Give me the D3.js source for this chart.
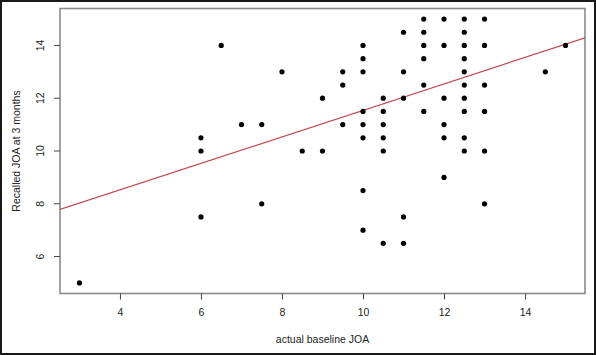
<!DOCTYPE html>
<html>
<head>
<meta charset="utf-8">
<script src="https://cdn.jsdelivr.net/npm/d3@7"></script>
<style>
html,body{margin:0;padding:0;background:#fff;}
svg{display:block;}
text{font-family:"Liberation Sans",Arial,sans-serif;fill:#222;}
</style>
</head>
<body>
<svg id="chart" width="596" height="355"></svg>
<script>
// Data: baseline JOA (x) and recalled JOA at 3 months (y)
const xValues = [3, 6, 6, 6, 6.5, 7, 7.5, 7.5, 8, 8.5, 9, 9,
  9.5, 9.5, 9.5,
  10, 10, 10, 10, 10, 10, 10, 10,
  10.5, 10.5, 10.5, 10.5, 10.5, 10.5,
  11, 11, 11, 11, 11,
  11.5, 11.5, 11.5, 11.5, 11.5, 11.5,
  12, 12, 12, 12, 12, 12,
  12.5, 12.5, 12.5, 12.5, 12.5, 12.5, 12.5, 12.5, 12.5, 12.5,
  13, 13, 13, 13, 13, 13,
  14.5, 15];
const yValues = [5, 10.5, 10, 7.5, 14, 11, 11, 8, 13, 10, 12, 10,
  13, 12.5, 11,
  14, 13.5, 13, 11.5, 11, 10.5, 8.5, 7,
  12, 11.5, 11, 10.5, 10, 6.5,
  14.5, 13, 12, 7.5, 6.5,
  15, 14.5, 14, 13.5, 12.5, 11.5,
  15, 14, 12, 11, 10.5, 9,
  15, 14.5, 14, 13.5, 13, 12.5, 12, 11.5, 10.5, 10,
  15, 14, 12.5, 11.5, 10, 8,
  13, 14];
const xTicks = [4, 6, 8, 10, 12, 14];
const yTicks = [6, 8, 10, 12, 14];
const fitLine = [6.52, 0.502]; // intercept, slope
const xLabel = "actual baseline JOA";
const yLabel = "Recalled JOA at 3 months";

const svg = d3.select("#chart");
const W = 596, H = 355;
const plot = {left: 60, top: 8.5, right: 585, bottom: 293.5};

// outer frame
svg.append("rect").attr("x", 1).attr("y", 1).attr("width", W - 2).attr("height", H - 2)
  .attr("fill", "none").attr("stroke", "#1a1a1a").attr("stroke-width", 2);

const xExt = d3.extent(xValues), yExt = d3.extent(yValues);
const xPad = (xExt[1] - xExt[0]) * 0.04, yPad = (yExt[1] - yExt[0]) * 0.04;
const x = d3.scaleLinear().domain([xExt[0] - xPad, xExt[1] + xPad]).range([plot.left, plot.right]);
const y = d3.scaleLinear().domain([yExt[0] - yPad, yExt[1] + yPad]).range([plot.bottom, plot.top]);

// box
svg.append("rect").attr("x", plot.left).attr("y", plot.top)
  .attr("width", plot.right - plot.left).attr("height", plot.bottom - plot.top)
  .attr("fill", "none").attr("stroke", "#8a8a8a").attr("stroke-width", 1.6);

// axes
const xAxis = d3.axisBottom(x).tickValues(xTicks).tickSize(6).tickPadding(9).tickFormat(d3.format("d"));
const gx = svg.append("g").attr("transform", `translate(0,${plot.bottom})`).call(xAxis);
gx.select(".domain").remove();
gx.selectAll("line").attr("stroke", "#444");
gx.selectAll("text").attr("font-size", 10.5).style("fill", "#222");

const yAxis = d3.axisLeft(y).tickValues(yTicks).tickSize(6).tickPadding(8).tickFormat(d3.format("d"));
const gy = svg.append("g").attr("transform", `translate(${plot.left},0)`).call(yAxis);
gy.select(".domain").remove();
gy.selectAll("line").attr("stroke", "#444");
gy.selectAll("text").attr("font-size", 10.5).style("fill", "#222")
  .attr("text-anchor", "middle").attr("dy", null)
  .attr("transform", d => `rotate(-90, ${-20}, ${y(d)})`)
  .attr("x", -20).attr("y", d => y(d)).attr("dy", "0.35em");
gy.selectAll(".tick").attr("transform", null);
gy.selectAll(".tick line").attr("y1", d => y(d)).attr("y2", d => y(d));

// regression line clipped to plot area
svg.append("clipPath").attr("id", "clip").append("rect")
  .attr("x", plot.left).attr("y", plot.top).attr("width", plot.right - plot.left).attr("height", plot.bottom - plot.top);
const [x0, x1] = x.domain();
svg.append("line").attr("clip-path", "url(#clip)")
  .attr("x1", x(x0)).attr("y1", y(fitLine[0] + fitLine[1] * x0))
  .attr("x2", x(x1)).attr("y2", y(fitLine[0] + fitLine[1] * x1))
  .attr("stroke", "#c4484b").attr("stroke-width", 1.2);

// points
svg.append("g").selectAll("circle").data(xValues.map((v, i) => [v, yValues[i]]))
  .join("circle").attr("cx", d => x(d[0])).attr("cy", d => y(d[1])).attr("r", 2.6).attr("fill", "#000");

// labels
svg.append("text").attr("x", (plot.left + plot.right) / 2).attr("y", 343)
  .attr("text-anchor", "middle").attr("font-size", 10.5).text(xLabel);
svg.append("text").attr("transform", `translate(20,${(plot.top + plot.bottom) / 2}) rotate(-90)`)
  .attr("text-anchor", "middle").attr("font-size", 10.5).text(yLabel);
</script>
</body>
</html>
